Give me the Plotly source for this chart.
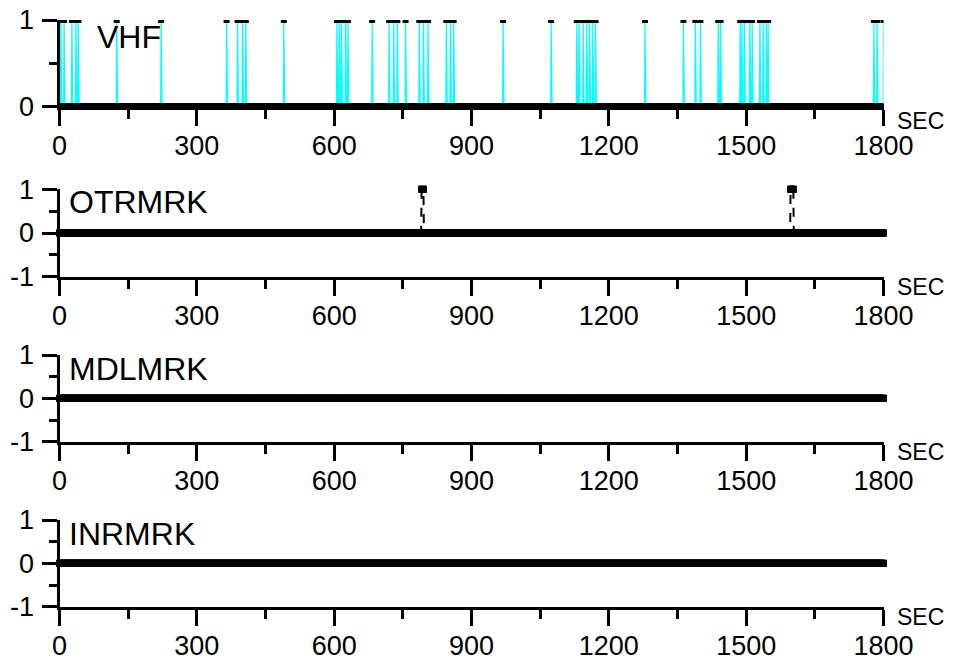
import numpy as np
import plotly.graph_objects as go

# ---------------- data ----------------
t_max = 1800
time_step = 1
x_ticks = [0, 300, 600, 900, 1200, 1500, 1800]
x_tick_labels = ["0", "300", "600", "900", "1200", "1500", "1800"]

# VHF: times (s) of short "on" spikes
vhf_spike_times = [3, 10, 27, 36, 41, 125, 222, 365, 389, 400, 407, 490,
                   606, 611, 616, 625, 630, 683, 720, 730, 738, 756, 786,
                   795, 805, 845, 854, 861, 969, 1074, 1130, 1135, 1144,
                   1152, 1158, 1165, 1171, 1279, 1363, 1389, 1400, 1439,
                   1444, 1487, 1491, 1496, 1508, 1513, 1530, 1537, 1544,
                   1548, 1779, 1786, 1800]

# OTRMRK: intervals (start, end) in s where the marker is on
otr_on_start = [791, 1597]
otr_on_end = [795, 1603]

# MDLMRK and INRMRK: no events
mdl_on_start, mdl_on_end = [], []
inr_on_start, inr_on_end = [], []

panel_names = ["VHF", "OTRMRK", "MDLMRK", "INRMRK"]

# ---------------- build sampled series ----------------
t = np.arange(0, t_max + time_step, time_step)


def spikes(times):
    v = np.zeros_like(t, dtype=float)
    v[np.isin(t, times)] = 1.0
    return v


def intervals(starts, ends):
    v = np.zeros_like(t, dtype=float)
    for s, e in zip(starts, ends):
        v[(t >= s) & (t <= e)] = 1.0
    return v


vhf = spikes(vhf_spike_times)
otr = intervals(otr_on_start, otr_on_end)
mdl = intervals(mdl_on_start, mdl_on_end)
inr = intervals(inr_on_start, inr_on_end)

# ---------------- layout geometry ----------------
W, H = 958, 664
FONT = "Liberation Sans, Arial, sans-serif"
x_dom = [59.5 / W, 883.5 / W]
# (top px, bottom px) of each panel's y axis
panel_px = [(20, 106.7), (189.3, 276.7), (355, 441.7), (520, 606.7)]
y_ranges = [[0, 1], [-1, 1], [-1, 1], [-1, 1]]
label_y_px = [36.5, 201.5, 368.7, 533.7]
label_x_px = [95, 67, 67, 67]
sec_y_px = [121, 286.7, 451.7, 616.7]


def py(px):
    return 1 - px / H


fig = go.Figure()

series = [vhf, otr, mdl, inr]
for i, v in enumerate(series):
    n = "" if i == 0 else str(i + 1)
    if i == 0:
        line = dict(color="#00FFFF", width=1.2)
        clip = True
        msize = 6
    else:
        line = dict(color="black", width=2, dash="dash")
        clip = False
        msize = 7
    fig.add_trace(go.Scatter(
        x=t, y=v, mode="lines+markers",
        line=line,
        marker=dict(symbol="square", size=msize, color="black",
                    line=dict(width=0)),
        cliponaxis=clip,
        xaxis="x" + n, yaxis="y" + n,
        showlegend=False, hoverinfo="skip",
    ))

axis_common = dict(
    showline=True, linecolor="black", linewidth=3,
    showgrid=False, zeroline=False,
    ticks="outside", tickcolor="black", tickwidth=3,
    automargin=False,
)

layout = dict(
    width=W, height=H,
    margin=dict(l=0, r=0, t=0, b=0),
    paper_bgcolor="white", plot_bgcolor="white",
    font=dict(family=FONT, color="black"),
    showlegend=False,
    annotations=[],
)

for i in range(4):
    n = "" if i == 0 else str(i + 1)
    top, bot = panel_px[i]
    layout["xaxis" + n] = dict(
        axis_common,
        domain=x_dom, range=[0, t_max], anchor="y" + n,
        tickvals=x_ticks, ticktext=x_tick_labels,
        ticklen=16,
        tickfont=dict(size=27, family=FONT, color="black"),
        ticklabelstandoff=-3,
        minor=dict(tickvals=[150, 450, 750, 1050, 1350, 1650],
                   ticks="outside", ticklen=9, tickwidth=3,
                   tickcolor="black"),
    )
    yr = y_ranges[i]
    yt = [0, 1] if i == 0 else [-1, 0, 1]
    ym = [0.5] if i == 0 else [-0.5, 0.5]
    layout["yaxis" + n] = dict(
        axis_common,
        domain=[py(bot), py(top)], range=yr, anchor="x" + n,
        tickvals=yt, ticktext=[str(v) for v in yt],
        ticklen=15,
        tickfont=dict(size=27, family=FONT, color="black"),
        ticklabelstandoff=2,
        minor=dict(tickvals=ym, ticks="outside", ticklen=8, tickwidth=3,
                   tickcolor="black"),
    )
    layout["annotations"].append(dict(
        text=panel_names[i], xref="paper", yref="paper",
        x=label_x_px[i] / W, y=py(label_y_px[i]),
        xanchor="left", yanchor="middle", showarrow=False,
        font=dict(size=32, family=FONT, color="black"),
    ))
    layout["annotations"].append(dict(
        text="SEC", xref="paper", yref="paper",
        x=895 / W, y=py(sec_y_px[i]),
        xanchor="left", yanchor="middle", showarrow=False,
        font=dict(size=23, family=FONT, color="black"),
    ))

fig.update_layout(**layout)
fig.write_html(
    "out.html",
    config={"displayModeBar": False, "staticPlot": True},
    post_script="document.body.style.margin='0';document.body.style.padding='0';",
)
